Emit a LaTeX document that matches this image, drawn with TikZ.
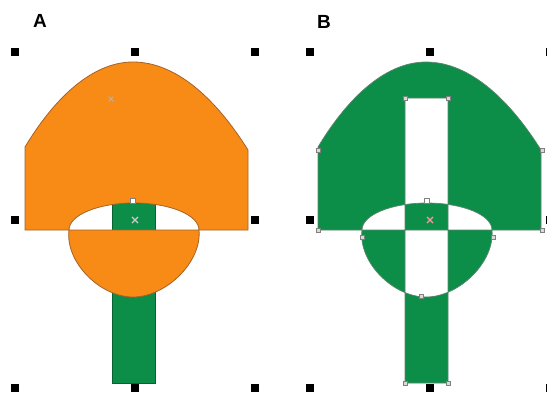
\documentclass[tikz,border=0pt]{standalone}
\usepackage{fontspec}
\setsansfont{Liberation Sans}
\usetikzlibrary{shapes.misc}

\definecolor{capOrange}{RGB}{247,139,22}
\definecolor{stemGreen}{RGB}{12,142,72}
\definecolor{edgeBrown}{RGB}{165,98,40}

% outlines of the two shapes (panel A coordinates, in px)
\newcommand{\capline}{(25,230) -- (25,147) .. controls (52,102) and (90,62) .. (133,62) .. controls (178,62) and (218,102) .. (248,150) -- (248,230) -- cycle}
\newcommand{\lensline}{(69,230) .. controls (69,215) and (98,203) .. (134,203) .. controls (170,203) and (199,215) .. (199,230) .. controls (202,262) and (166,297) .. (133,297) .. controls (100,297) and (65,262) .. (69,230) -- cycle}

\begin{document}
\begin{tikzpicture}[x=1pt,y=-1pt,
    knob/.style={fill=black, minimum size=7.5pt, inner sep=0pt},
    handle/.style={draw=gray, fill=gray!30, minimum size=4pt, inner sep=0pt, line width=0.6pt},
    topmark/.style={draw=gray, fill=white, minimum size=5pt, inner sep=0pt, line width=0.8pt},
    midmark/.style={cross out, draw=#1, minimum size=5pt, inner sep=0pt, line width=1.1pt},
    title/.style={font=\sffamily\bfseries\fontsize{19}{19}\selectfont}]
    \useasboundingbox (0,0) rectangle (547,400);

    % panel titles
    \node[title] (labA) at (40,21) {A};
    \node[title] (labB) at (324,22) {B};

    % selection knobs round each panel
    \foreach \px/\py [count=\i] in {15/52,135/52,255/52,15/220,255/220,15/388,135/388,255/388} {
        \node[knob] (ka\i) at (\px,\py) {};
    }
    \foreach \px/\py [count=\i] in {310/52,430/52,550/52,310/220,550/220,310/388,430/388,550/388} {
        \node[knob] (kb\i) at (\px,\py) {};
    }

    % panel A: green stem behind, orange cap with lens (even odd)
    \fill[stemGreen, draw=stemGreen!70!black, line width=0.6pt] (112,203) rectangle (155,383);
    \filldraw[capOrange, draw=edgeBrown, line width=0.8pt, even odd rule] \capline \lensline;

    % panel B: cap, lens and long bar combined
    \begin{scope}[xshift=293pt]
        \filldraw[stemGreen, draw=gray!70!stemGreen, line width=0.7pt, even odd rule]
            \capline \lensline (112,98) rectangle (155,383);
    \end{scope}

    % markers on A
    \node[midmark=gray!60, minimum size=4pt, line width=0.8pt] (mA0) at (111,99) {};
    \node[topmark] (mA1) at (133,201) {};
    \node[midmark=gray!40!white] (mA2) at (135,220) {};

    % node handles on B
    \foreach \px/\py [count=\i] in {318/150,405/98,448/98,542/150,318/230,542/230,362/237,493/237,421/296,405/383,448/383} {
        \node[handle] (hb\i) at (\px,\py) {};
    }
    \node[topmark] (mB1) at (427,201) {};
    \node[midmark=pink!80!red] (mB2) at (430,220) {};
\end{tikzpicture}
\end{document}
